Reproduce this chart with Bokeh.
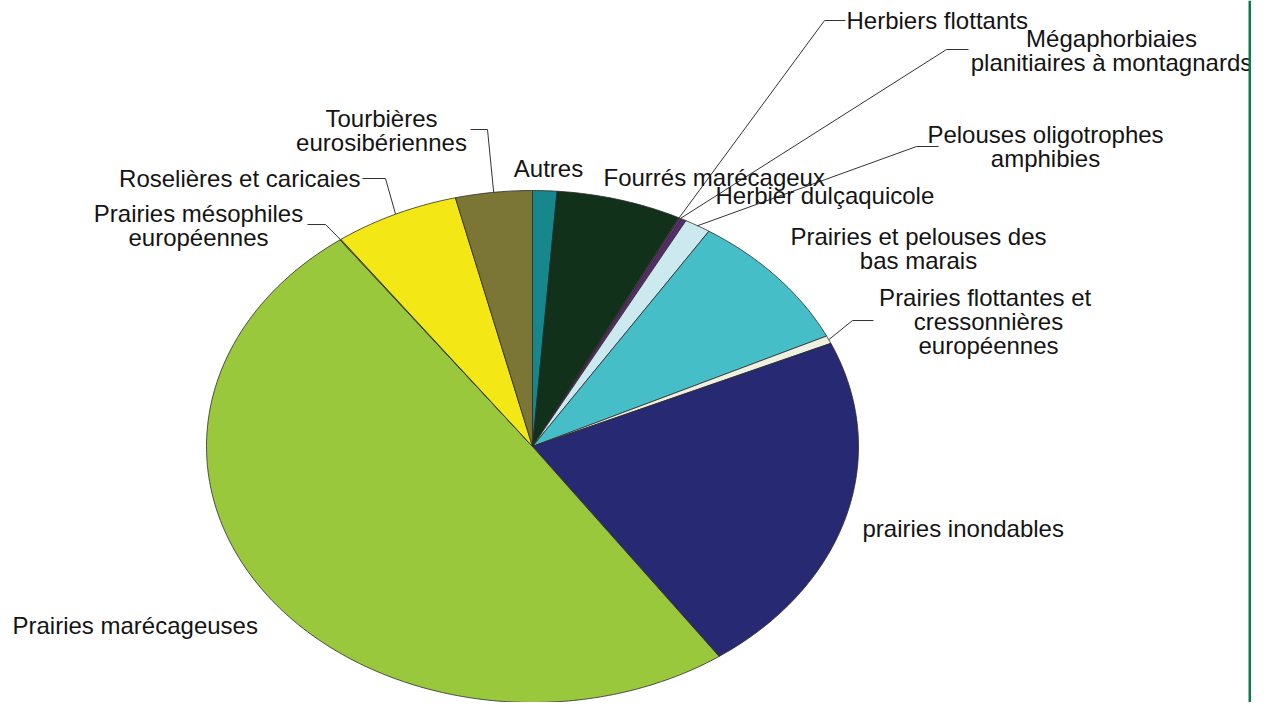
import math
from bokeh.plotting import figure
from bokeh.models import Range1d, ColumnDataSource, BoxAnnotation
from bokeh.core.properties import value
from bokeh.embed import file_html
from bokeh.resources import INLINE

# ---------------- data (percent of area, clockwise from 12 o'clock) ----------------
categories = [
    "Autres",
    "Fourrés marécageux",
    "Herbiers flottants",
    "Mégaphorbiaies planitiaires à montagnards",
    "Herbier dulçaquicole",
    "Pelouses oligotrophes amphibies",
    "Prairies et pelouses des bas marais",
    "Prairies flottantes et cressonnières européennes",
    "prairies inondables",
    "Prairies marécageuses",
    "Prairies mésophiles européennes",
    "Roselières et caricaies",
    "Tourbières eurosibériennes",
]
values = [1.2, 6.2, 0.05, 0.1, 0.25, 1.3, 8.8, 0.5, 21.9, 49.65, 0.05, 6.2, 3.8]
colors = ["#16878b", "#12311b", "#7b3f8c", "#6a3a7e", "#5a2a6e", "#cde9f0",
          "#46bec7", "#eef0e2", "#272a72", "#9ac83c", "#9ac83c", "#f3e816", "#7b7536"]
label_lines = [
    ["Autres"],
    ["Fourrés marécageux"],
    ["Herbiers flottants"],
    ["Mégaphorbiaies", "planitiaires à montagnards"],
    ["Herbier dulçaquicole"],
    ["Pelouses oligotrophes", "amphibies"],
    ["Prairies et pelouses des", "bas marais"],
    ["Prairies flottantes  et", "cressonnières", "européennes"],
    ["prairies inondables"],
    ["Prairies marécageuses"],
    ["Prairies mésophiles", "européennes"],
    ["Roselières et caricaies"],
    ["Tourbières", "eurosibériennes"],
]

# ---------------- layout (pixel coordinates of the picture) ----------------
W, H = 1251, 702
CX, CY, RX, RY = 532, 446, 326, 256
FONT = "Liberation Sans"
FS = "24px"
LINE_GAP = 24
# label anchor: (x, y of first line, align)
label_pos = [
    (548, 168, "center"),
    (603, 177, "left"),
    (846, 20, "left"),
    (1111, 38, "center"),
    (715, 195, "left"),
    (1045, 134, "center"),
    (918, 236, "center"),
    (988, 297, "center"),
    (862, 528, "left"),
    (12, 625, "left"),
    (198, 213, "center"),
    (360, 178, "right"),
    (381, 118, "center"),
]
# leader lines: category index -> (start point near label, elbow point)
leaders = {
    2: ((845, 20), (824, 20)),
    3: ((968, 49), (946, 49)),
    5: ((938, 146), (916, 146)),
    7: ((873, 320), (852, 320)),
    10: ((307, 224), (325, 224)),
    11: ((362, 178), (385, 178)),
    12: ((470, 129), (487, 129)),
}

p = figure(width=W, height=H, output_backend="svg", toolbar_location=None,
           x_range=Range1d(0, W), y_range=Range1d(H, 0),
           x_axis_type=None, y_axis_type=None, min_border=0)
p.outline_line_color = None
p.grid.visible = False
p.background_fill_color = "white"
p.border_fill_color = "white"

total = sum(values)


def ell(t):
    return CX + RX * math.sin(t), CY - RY * math.cos(t)


xs, ys, mids = [], [], []
acc = 0.0
for v in values:
    t0 = acc / total * 2 * math.pi
    acc += v
    t1 = acc / total * 2 * math.pi
    n = max(2, int((t1 - t0) / (2 * math.pi) * 400) + 2)
    px, py = [CX], [CY]
    for i in range(n + 1):
        x, y = ell(t0 + (t1 - t0) * i / n)
        px.append(x)
        py.append(y)
    xs.append(px)
    ys.append(py)
    mids.append((t0 + t1) / 2)

p.patches(xs=xs, ys=ys, fill_color=colors, line_color="#2b2b2b", line_width=0.8)

# leader lines
lx, ly = [], []
for i, (a, b) in leaders.items():
    ex, ey = ell(mids[i])
    lx.append([a[0], b[0], ex])
    ly.append([a[1], b[1], ey])
p.multi_line(xs=lx, ys=ly, line_color="#333333", line_width=1)

# labels
tx, ty, tt, ta = [], [], [], []
for lines, (x, y, al) in zip(label_lines, label_pos):
    for k, s in enumerate(lines):
        tx.append(x)
        ty.append(y + k * LINE_GAP)
        tt.append(s)
        ta.append(al)
src = ColumnDataSource(dict(x=tx, y=ty, text=tt, align=ta))
p.text(x="x", y="y", text="text", text_align="align", text_baseline="middle",
       text_font=value(FONT), text_font_size=FS, text_color="#141414", source=src)

# green side band
p.add_layout(BoxAnnotation(left=1248, right=1300, fill_color="#0c7a4d", fill_alpha=1,
                           line_color=None))

open("out.html", "w").write(file_html(p, INLINE))
